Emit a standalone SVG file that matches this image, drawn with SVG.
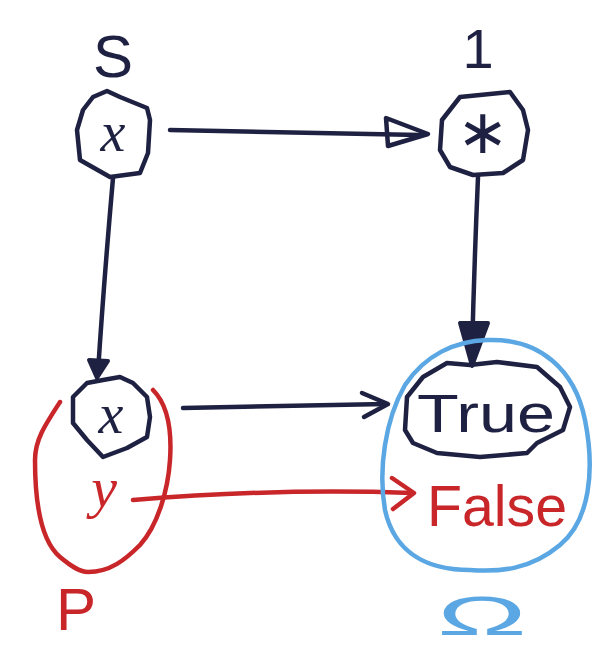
<svg xmlns="http://www.w3.org/2000/svg" width="613" height="671" viewBox="0 0 613 671">
<style>
.ink{fill:none;stroke:#1f2142;stroke-width:4.5;stroke-linejoin:round;stroke-linecap:round}
.red{fill:none;stroke:#c9262a;stroke-width:4.5;stroke-linejoin:round;stroke-linecap:round}
.blue{fill:none;stroke:#5aa7e3;stroke-width:4.5;stroke-linejoin:round;stroke-linecap:round}
.head{fill:#1f2142;stroke:#1f2142;stroke-width:4;stroke-linejoin:round}
.tk{font-family:"Liberation Sans",Arial,sans-serif;fill:#1f2142}
.tv{font-family:"Liberation Serif","Times New Roman",serif;font-style:italic;fill:#1f2142}
</style>
<rect width="613" height="671" fill="#ffffff"/>
<g id="connectors">
  <path class="ink" d="M170,130 L420,135"/>
  <path class="ink" d="M428,134 L386,118 L388,146 Z"/>
  <path class="ink" d="M113,178 Q104,280 98,372"/>
  <path class="head" d="M97,378 L89,360 L108,361 Z"/>
  <path class="ink" d="M183,408 L386,404"/>
  <path class="ink" d="M362,393 L388,404 L364,417"/>
  <path class="ink" d="M478,177 Q474,270 472,355"/>
  <path class="head" d="M472,366 L460,323 L488,323 Z"/>
  <path class="red" d="M133,500 Q280,488 412,493"/>
  <path class="red" d="M392,478 L414,493 L393,509"/>
</g>
<g id="node-S">
  <text class="tk" x="113" y="77" font-size="60" text-anchor="middle">S</text>
  <polygon class="ink" points="107,91 120,97 147,108 150,120 148,153 140,173 110,177 80,160 77,130 83,110 93,97"/>
  <text class="tv" x="113" y="151" font-size="56" text-anchor="middle">x</text>
</g>
<g id="node-1">
  <text class="tk" x="478" y="68" font-size="56" text-anchor="middle">1</text>
  <polygon class="ink" points="460,97 510,92 523,110 528,130 523,160 503,173 473,175 450,167 440,150 442,120"/>
  <text class="tk" x="483" y="153" font-size="62" text-anchor="middle" style="font-family:'DejaVu Sans',sans-serif">∗</text>
</g>
<g id="node-P">
  <path class="red" d="M60,402 C45,425 35,440 35,460 C35,500 40,540 60,557 C72,567 80,572 88,572 C110,572 125,560 140,545 C158,525 168,490 170,460 C172,430 168,405 153,390"/>
  <polygon class="ink" points="87,383 103,380 120,377 133,383 147,397 150,417 147,437 127,448 103,457 87,440 73,423 73,397"/>
  <text class="tv" x="111" y="433" font-size="56" text-anchor="middle">x</text>
  <text class="tv" x="104" y="507" font-size="58" text-anchor="middle" style="fill:#c9262a">y</text>
  <text class="tk" x="76" y="630" font-size="60" text-anchor="middle" style="fill:#c9262a">P</text>
</g>
<g id="node-Omega">
  <path class="blue" d="M487,340 C540,338 575,370 585,420 C595,470 590,520 560,545 C530,570 500,572 470,570 C430,570 395,555 385,510 C378,470 385,420 405,385 C425,355 455,341 487,340 Z"/>
  <polygon class="ink" points="423,377 447,363 470,365 497,362 537,367 560,387 570,407 563,430 537,443 527,453 480,457 437,453 413,443 405,430 407,397"/>
  <text class="tk" x="417" y="432" font-size="54" textLength="138" lengthAdjust="spacingAndGlyphs">True</text>
  <text class="tk" x="427" y="526" font-size="58" textLength="140" lengthAdjust="spacingAndGlyphs" style="fill:#c9262a">False</text>
  <text class="tk" x="482" y="635" font-size="56" text-anchor="middle" textLength="90" lengthAdjust="spacingAndGlyphs" style="fill:#5aa7e3">Ω</text>
</g>
</svg>
